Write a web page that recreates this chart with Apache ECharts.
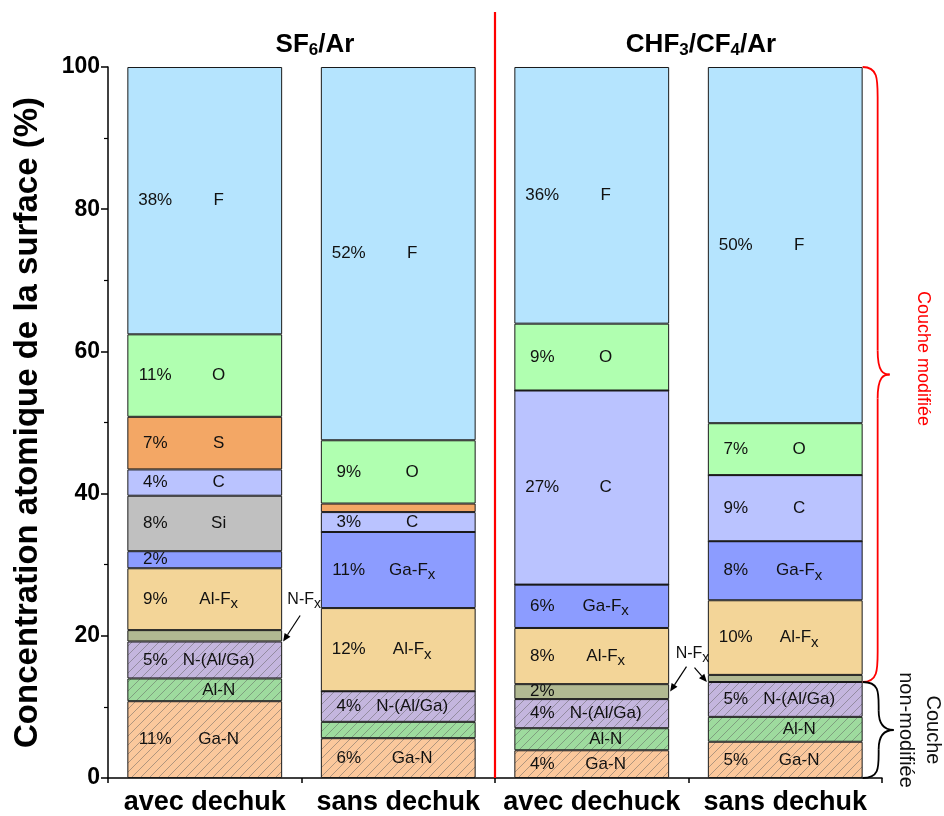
<!DOCTYPE html>
<html><head><meta charset="utf-8">
<script src="https://cdn.jsdelivr.net/npm/echarts@6/dist/echarts.min.js"></script>
<style>html,body{margin:0;padding:0;background:#fff}#c{width:944px;height:816px}</style>
</head><body><div id="c"></div>
<script>
// ---- data ----
const categories = ['avec dechuk', 'sans dechuk', 'avec dechuck', 'sans dechuk'];
const yTickValues = [0, 20, 40, 60, 80, 100];

const GaN   = [10.8, 5.6, 3.9, 5.1];
const AlN   = [3.2, 2.3, 3.1, 3.5];
const NAlGa = [5.2, 4.3, 4.1, 4.9];
const NFx   = [1.6, 0, 2.1, 1.0];
const AlFx  = [8.7, 11.7, 7.9, 10.5];
const GaFx  = [2.4, 10.7, 6.1, 8.3];
const Si    = [7.8, 0, 0, 0];
const C     = [3.7, 2.8, 27.3, 9.3];
const S     = [7.4, 1.2, 0, 0];
const O     = [11.6, 8.9, 9.4, 7.3];
const F     = [37.6, 52.5, 36.1, 50.1];

const GaN_pct   = ['11%', '6%', '4%', '5%'];
const AlN_pct   = ['', '', '', ''];
const NAlGa_pct = ['5%', '4%', '4%', '5%'];
const NFx_pct   = ['', '', '2%', ''];
const AlFx_pct  = ['9%', '12%', '8%', '10%'];
const GaFx_pct  = ['2%', '11%', '6%', '8%'];
const Si_pct    = ['8%', '', '', ''];
const C_pct     = ['4%', '3%', '27%', '9%'];
const S_pct     = ['7%', '', '', ''];
const O_pct     = ['11%', '9%', '9%', '7%'];
const F_pct     = ['38%', '52%', '36%', '50%'];

const GaN_lbl   = ['Ga-N', 'Ga-N', 'Ga-N', 'Ga-N'];
const AlN_lbl   = ['Al-N', '', 'Al-N', 'Al-N'];
const NAlGa_lbl = ['N-(Al/Ga)', 'N-(Al/Ga)', 'N-(Al/Ga)', 'N-(Al/Ga)'];
const NFx_lbl   = ['', '', '', ''];
const AlFx_lbl  = ['Al-F_x', 'Al-F_x', 'Al-F_x', 'Al-F_x'];
const GaFx_lbl  = ['', 'Ga-F_x', 'Ga-F_x', 'Ga-F_x'];
const Si_lbl    = ['Si', '', '', ''];
const C_lbl     = ['C', 'C', 'C', 'C'];
const S_lbl     = ['S', '', '', ''];
const O_lbl     = ['O', 'O', 'O', 'O'];
const F_lbl     = ['F', 'F', 'F', 'F'];

// ---- styling / building ----
const FONT = '"Liberation Sans", Arial, sans-serif';
function hatch(bg) {
  const c = document.createElement('canvas');
  c.width = 9; c.height = 9;
  const g = c.getContext('2d');
  g.fillStyle = bg; g.fillRect(0, 0, 9, 9);
  g.strokeStyle = 'rgba(95,95,95,0.55)'; g.lineWidth = 0.9;
  g.beginPath();
  g.moveTo(-1, 10); g.lineTo(10, -1);
  g.moveTo(-1, 1); g.lineTo(1, -1);
  g.moveTo(8, 10); g.lineTo(10, 8);
  g.stroke();
  return { image: c, repeat: 'repeat' };
}
const comps = [
  { name: 'Ga-N', v: GaN, pct: GaN_pct, lbl: GaN_lbl, color: hatch('#fbc89c') },
  { name: 'Al-N', v: AlN, pct: AlN_pct, lbl: AlN_lbl, color: hatch('#9edb9e') },
  { name: 'N-(Al/Ga)', v: NAlGa, pct: NAlGa_pct, lbl: NAlGa_lbl, color: hatch('#c4b6de') },
  { name: 'N-Fx', v: NFx, pct: NFx_pct, lbl: NFx_lbl, color: '#b1b992' },
  { name: 'Al-Fx', v: AlFx, pct: AlFx_pct, lbl: AlFx_lbl, color: '#f3d598' },
  { name: 'Ga-Fx', v: GaFx, pct: GaFx_pct, lbl: GaFx_lbl, color: '#8c9cff' },
  { name: 'Si', v: Si, pct: Si_pct, lbl: Si_lbl, color: '#c0c0c0' },
  { name: 'C', v: C, pct: C_pct, lbl: C_lbl, color: '#bac3ff' },
  { name: 'S', v: S, pct: S_pct, lbl: S_lbl, color: '#f3a765' },
  { name: 'O', v: O, pct: O_pct, lbl: O_lbl, color: '#b0ffb0' },
  { name: 'F', v: F, pct: F_pct, lbl: F_lbl, color: '#b5e4fe' }
];
function fmtName(s) {
  if (!s) return '';
  if (s.endsWith('_x')) return '{n|' + s.slice(0, -2) + '}{s|x}';
  return '{n|' + s + '}';
}
const series = [];
comps.forEach(c => {
  series.push({
    type: 'bar', name: c.name, stack: 'vis', barWidth: '80%', barGap: '-100%',
    itemStyle: { color: c.color, borderColor: '#1a1a1a', borderWidth: 1 },
    label: { show: true, position: ['18%', '50%'], align: 'center', verticalAlign: 'middle',
      fontSize: 17, color: '#111', fontFamily: FONT, formatter: p => c.pct[p.dataIndex] },
    emphasis: { disabled: true },
    data: c.v.map((v, i) => ({ value: v, label: { show: c.pct[i] !== '' } }))
  });
});
comps.forEach(c => {
  series.push({
    type: 'bar', name: c.name + ' label', stack: 'lab', barWidth: '80%', barGap: '-100%', silent: true,
    itemStyle: { color: 'rgba(0,0,0,0)', borderWidth: 0 },
    label: { show: true, position: ['59%', '50%'], align: 'center', verticalAlign: 'middle', color: '#111',
      fontFamily: FONT, formatter: p => fmtName(c.lbl[p.dataIndex]),
      rich: { n: { fontSize: 17, fontFamily: FONT, color: '#111' },
              s: { fontSize: 15, fontFamily: FONT, color: '#111', padding: [10, 0, 0, 0] } } },
    emphasis: { disabled: true },
    data: c.v.map((v, i) => ({ value: v, label: { show: c.lbl[i] !== '' } }))
  });
});

const chart = echarts.init(document.getElementById('c'));
chart.setOption({
  animation: false,
  textStyle: { fontFamily: FONT },
  title: [
    { text: '{a|SF}{b|6}{a|/Ar}', left: 310, top: 25, textAlign: 'center',
      textStyle: { rich: { a: { fontSize: 26, fontWeight: 'bold', fontFamily: FONT, color: '#000' },
                           b: { fontSize: 17, fontWeight: 'bold', fontFamily: FONT, color: '#000', padding: [12, 0, 0, 0] } } } },
    { text: '{a|CHF}{b|3}{a|/CF}{b|4}{a|/Ar}', left: 696, top: 25, textAlign: 'center',
      textStyle: { rich: { a: { fontSize: 26, fontWeight: 'bold', fontFamily: FONT, color: '#000' },
                           b: { fontSize: 17, fontWeight: 'bold', fontFamily: FONT, color: '#000', padding: [12, 0, 0, 0] } } } }
  ],
  grid: { left: 108, right: 62, top: 67, bottom: 37, containLabel: false },
  xAxis: [
    { type: 'category', data: categories,
      axisLine: { lineStyle: { color: '#000', width: 1.5 } },
      axisTick: { alignWithLabel: true, length: 8, lineStyle: { color: '#000', width: 1.5 } },
      axisLabel: { fontSize: 27, fontWeight: 'bold', color: '#000', margin: 11, fontFamily: FONT, interval: 0 } },
    { type: 'value', min: 0, max: 4, interval: 1, position: 'bottom',
      axisLine: { show: false }, splitLine: { show: false }, axisLabel: { show: false },
      axisTick: { show: true, length: 5, lineStyle: { color: '#000', width: 1.5 } } }
  ],
  yAxis: {
    type: 'value', min: 0, max: 100, interval: 20,
    name: 'Concentration atomique de la surface (%)', nameLocation: 'middle', nameGap: 64,
    nameTextStyle: { fontSize: 33, fontWeight: 'bold', color: '#000', fontFamily: FONT },
    axisLine: { show: true, lineStyle: { color: '#000', width: 1.5 } },
    axisTick: { show: true, length: 7, lineStyle: { color: '#000', width: 1.5 } },
    minorTick: { show: true, splitNumber: 2, length: 4, lineStyle: { color: '#000', width: 1.2 } },
    splitLine: { show: false },
    axisLabel: { fontSize: 23, fontWeight: 'bold', color: '#000', margin: 8, fontFamily: FONT,
      formatter: v => (yTickValues.indexOf(v) >= 0 ? String(v) : '') }
  },
  series: series
});

// ---- annotations, positioned from data through the axes ----
const xp = v => chart.convertToPixel({ xAxisIndex: 1 }, v);
const yp = v => chart.convertToPixel({ yAxisIndex: 0 }, v);
const cum = (i, k) => comps.slice(0, k).reduce((s, c) => s + c.v[i], 0); // sum of first k components in bar i
const half = 0.4;
const G = [];
function arrow(x1, y1, x2, y2) {
  const a = Math.atan2(y2 - y1, x2 - x1), L = 8, W = 3.5;
  const bx = x2 - L * Math.cos(a), by = y2 - L * Math.sin(a);
  G.push({ type: 'line', shape: { x1, y1, x2: bx, y2: by }, style: { stroke: '#000', lineWidth: 1.2 }, z: 100 });
  G.push({ type: 'polygon', shape: { points: [[x2, y2], [bx - W * Math.sin(a), by + W * Math.cos(a)], [bx + W * Math.sin(a), by - W * Math.cos(a)]] }, style: { fill: '#000' }, z: 100 });
}
function nfxText(x, y) {
  G.push({ type: 'text', x, y, z: 100, style: { text: '{n|N-F}{s|x}', align: 'center', verticalAlign: 'middle',
    rich: { n: { fontSize: 16, fontFamily: FONT, fill: '#111' }, s: { fontSize: 14, fontFamily: FONT, fill: '#111', padding: [9, 0, 0, 0] } } } });
}
// bar 1
{
  const tx = xp(0.5 + half), ty = yp(cum(0, 3));
  arrow(tx + 18, ty - 26, tx + 1, ty);
  nfxText(tx + 22, ty - 42);
}
// bars 3 & 4
{
  const t3x = xp(2.5 + half), t3y = yp(cum(2, 3) + NFx[2] / 2);
  const t4x = xp(3.5 - half), t4y = yp(cum(3, 3));
  const mx = (t3x + t4x) / 2;
  arrow(mx - 2, t3y - 25, t3x + 1, t3y);
  arrow(mx + 6, t3y - 24, t4x - 1, t4y);
  nfxText(mx + 4, t3y - 38);
}
// red separator
{
  const x = xp(2);
  G.push({ type: 'line', shape: { x1: x, y1: 12, x2: x, y2: yp(0) }, style: { stroke: '#ff0000', lineWidth: 2.2 }, z: 100 });
}
// braces
function brace(x0, yTop, yBot, w, tipW, color) {
  const x1 = x0 + w, xt = x1 + tipW, ym = (yTop + yBot) / 2;
  const r = Math.min(30, (yBot - yTop) / 4);
  const st = { stroke: color, lineWidth: 1.8, fill: null };
  G.push({ type: 'bezierCurve', shape: { x1: x0, y1: yTop, cpx1: x1, cpy1: yTop, cpx2: x1, cpy2: yTop + r * 0.4, x2: x1, y2: yTop + r }, style: st, z: 100 });
  G.push({ type: 'line', shape: { x1: x1, y1: yTop + r, x2: x1, y2: ym - r * 0.8 }, style: st, z: 100 });
  G.push({ type: 'bezierCurve', shape: { x1: x1, y1: ym - r * 0.8, cpx1: x1, cpy1: ym - 2, cpx2: xt - 6, cpy2: ym, x2: xt, y2: ym }, style: st, z: 100 });
  G.push({ type: 'bezierCurve', shape: { x1: xt, y1: ym, cpx1: xt - 6, cpy1: ym, cpx2: x1, cpy2: ym + 2, x2: x1, y2: ym + r * 0.8 }, style: st, z: 100 });
  G.push({ type: 'line', shape: { x1: x1, y1: ym + r * 0.8, x2: x1, y2: yBot - r }, style: st, z: 100 });
  G.push({ type: 'bezierCurve', shape: { x1: x1, y1: yBot - r, cpx1: x1, cpy1: yBot - r * 0.4, cpx2: x1, cpy2: yBot, x2: x0, y2: yBot }, style: st, z: 100 });
  return ym;
}
{
  const x0 = xp(3.5 + half);
  const split = cum(3, 3);
  const ymR = brace(x0, yp(100), yp(split), 15, 12, '#ff0000');
  const ymB = brace(x0, yp(split), yp(0), 16, 15, '#000');
  G.push({ type: 'text', x: x0 + 60, y: ymR - 16, rotation: -Math.PI / 2, z: 100,
    style: { text: 'Couche modifiée', fontSize: 18, fontFamily: FONT, fill: '#ff0000', align: 'center', verticalAlign: 'middle' } });
  G.push({ type: 'text', x: x0 + 56, y: ymB, rotation: -Math.PI / 2, z: 100,
    style: { text: 'Couche\nnon-modifiée', fontSize: 20, lineHeight: 27, fontFamily: FONT, fill: '#111', align: 'center', verticalAlign: 'middle' } });
}
chart.setOption({ graphic: G });
</script>
</body></html>
